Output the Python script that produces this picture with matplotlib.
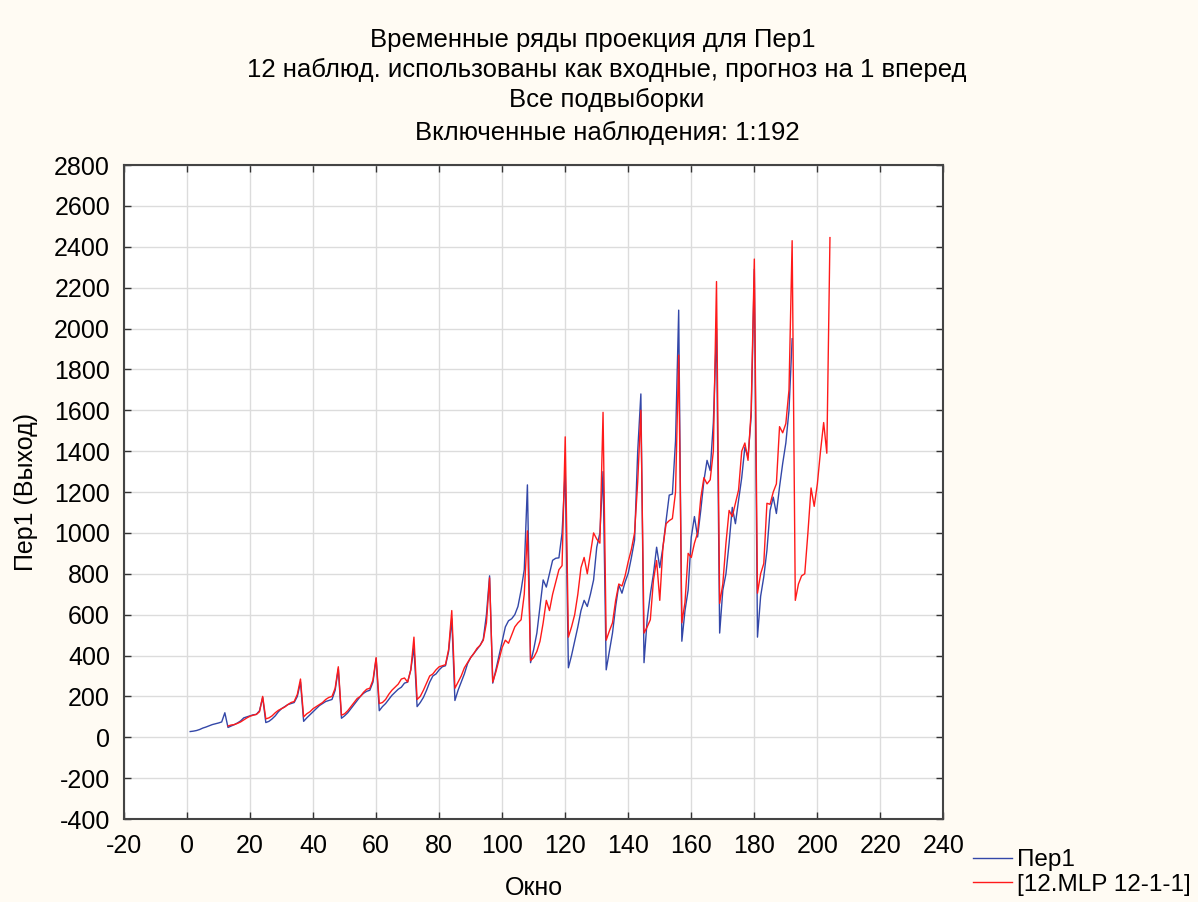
import matplotlib.pyplot as plt

plt.rcParams['font.family'] = ['Liberation Sans', 'DejaVu Sans']
plt.rcParams['axes.unicode_minus'] = False

# Пер1, наблюдения 1..192 (по годам, 12 месяцев)
per1 = [
    28, 30, 33, 38, 45, 50, 56, 62, 66, 70, 75, 120,
    48, 55, 62, 70, 80, 95, 100, 105, 110, 112, 130, 195,
    72, 78, 90, 105, 125, 140, 150, 160, 165, 170, 200, 270,
    78, 95, 110, 125, 140, 155, 165, 175, 180, 185, 230, 335,
    93, 105, 120, 140, 160, 180, 200, 215, 225, 230, 270, 385,
    130, 150, 165, 185, 205, 220, 235, 245, 265, 270, 330, 440,
    150, 170, 195, 230, 270, 300, 310, 330, 345, 350, 420, 580,
    180, 230, 270, 310, 360, 390, 410, 430, 450, 480, 600, 790,
    265, 330, 400, 470, 540, 570, 580, 600, 640, 720, 820, 1235,
    365, 430, 510, 640, 770, 735, 800, 866, 876, 878, 1000, 1305,
    340, 400, 470, 540, 620, 670, 640, 700, 770, 930, 1000, 1300,
    330, 420, 510, 640, 745, 705, 760, 803, 880, 965, 1400, 1680,
    365, 575, 700, 800, 930, 830, 930, 1060, 1185, 1190, 1450, 2090,
    470, 620, 720, 980, 1080, 980, 1110, 1255, 1355, 1305, 1540, 2000,
    510, 720, 800, 950, 1125, 1045, 1160, 1270, 1420, 1370, 1570, 2290,
    490, 690, 785, 915, 1110, 1175, 1095, 1225, 1340, 1440, 1600, 1950,
]

# прогноз [12.MLP 12-1-1], окна 13..204
mlp = [
    55, 60, 62, 68, 75, 85, 95, 103, 108, 112, 125, 200,
    90, 95, 105, 120, 132, 140, 148, 160, 170, 175, 210, 285,
    100, 115, 125, 140, 150, 160, 170, 185, 195, 200, 240, 345,
    108, 115, 130, 150, 170, 190, 200, 220, 235, 240, 280, 390,
    165, 170, 185, 210, 230, 245, 260, 285, 290, 270, 330, 490,
    185, 200, 230, 265, 300, 310, 330, 345, 350, 355, 430, 620,
    240, 270, 300, 340, 365, 390, 410, 435, 450, 475, 560, 780,
    270, 320, 380, 440, 475, 460, 500, 540, 560, 575, 700, 1010,
    375, 390, 420, 470, 560, 670, 620, 700, 760, 820, 840, 1470,
    490, 540, 600, 700, 830, 880, 800, 900, 1000, 970, 950, 1590,
    475, 520, 560, 670, 750, 740, 790, 860, 920, 1000, 1250, 1600,
    510, 540, 575, 770, 865, 670, 930, 1045, 1060, 1070, 1200, 1870,
    560, 660, 900, 880, 950, 1000, 1170, 1270, 1240, 1260, 1400, 2230,
    655, 750, 950, 1110, 1080, 1145, 1210, 1400, 1440, 1355, 1600, 2340,
    705, 800, 850, 1145, 1140, 1200, 1240, 1520, 1490, 1535, 1700, 2430,
    670, 750, 790, 800, 1000, 1220, 1130, 1240, 1400, 1540, 1390, 2445,
]

x_per1 = list(range(1, len(per1) + 1))
x_mlp = list(range(13, 13 + len(mlp)))

fig = plt.figure(figsize=(11.98, 9.02), dpi=100, facecolor='#fffbf3')
ax = fig.add_axes([0.1035, 0.092, 0.684, 0.725])
ax.set_facecolor('white')

ax.plot(x_per1, per1, color='#3347a8', lw=1.0, label='Пер1')
ax.plot(x_mlp, mlp, color='#ff1a1a', lw=1.0, label='[12.MLP 12-1-1]')

ax.set_xlim(-20, 240)
ax.set_ylim(-400, 2800)
ax.set_xticks(range(-20, 241, 20))
ax.set_yticks(range(-400, 2801, 200))
ax.grid(True, color='#dcdcdc', lw=1.0)
ax.set_axisbelow(True)
ax.tick_params(direction='in', top=True, right=True, length=5, width=1,
               labelsize=18, color='#333333')
ax.tick_params(axis='x', pad=11)
ax.tick_params(axis='y', pad=10)
for s in ax.spines.values():
    s.set_color('#444444')
    s.set_linewidth(1.5)

ax.set_xlabel('Окно', fontsize=18, labelpad=13)
ax.set_ylabel('Пер1 (Выход)', fontsize=18, labelpad=12)

# заголовок
titles = ['Временные ряды проекция для Пер1',
          '12 наблюд. использованы как входные, прогноз на 1 вперед',
          'Все подвыборки',
          'Включенные наблюдения: 1:192']
title_x = [593, 607, 607, 607]
title_y = [40, 70, 100, 133]
for t, xp, yp in zip(titles, title_x, title_y):
    fig.text(xp / 1198, 1 - yp / 902, t, ha='center', va='center', fontsize=18.5)

fig.legend(loc='upper left', bbox_to_anchor=(961 / 1198, 1 - 837 / 902),
           frameon=False, fontsize=17.5, handlelength=1.6, handletextpad=0.2,
           labelspacing=0.1, borderpad=0)

fig.savefig('out.png', dpi=100, facecolor=fig.get_facecolor())
